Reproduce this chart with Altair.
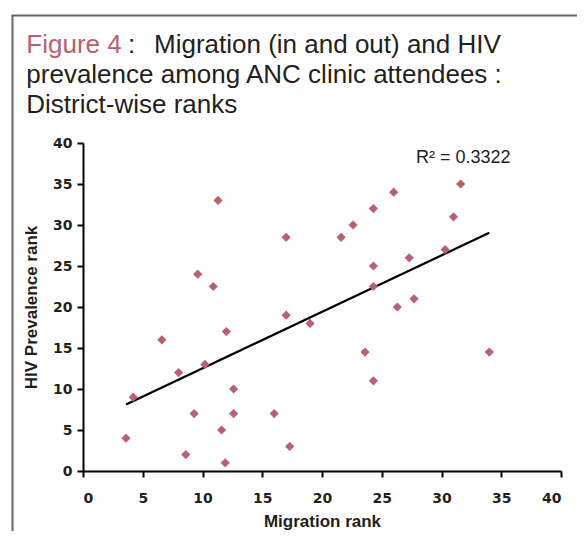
import altair as alt
import pandas as pd

migration_rank = [6.6, 12.0, 17.0, 19.0, 8.0, 10.2, 4.2, 12.6, 9.3, 12.6, 16.0, 11.6, 3.6, 8.6, 17.3, 11.9,
                  11.3, 17.0, 9.6, 10.9,
                  31.6, 26.0, 24.3, 22.6, 21.6, 31.0, 30.3, 27.3, 24.3, 24.3, 27.7, 26.3,
                  23.6, 34.0, 24.3]
hiv_rank = [16, 17, 19, 18, 12, 13, 9, 10, 7, 7, 7, 5, 4, 2, 3, 1,
            33, 28.5, 24, 22.5,
            35, 34, 32, 30, 28.5, 31, 27, 26, 25, 22.5, 21, 20,
            14.5, 14.5, 11]
x_ticks = [0, 5, 10, 15, 20, 25, 30, 35, 40]
y_ticks = [0, 5, 10, 15, 20, 25, 30, 35, 40]
r2_label = "R\u00b2 = 0.3322"
title_lines = ["prevalence among ANC clinic attendees :", "District-wise ranks"]

df = pd.DataFrame({"mig": migration_rank, "hiv": hiv_rank})

W, H = 478, 328
PINK = "#b8616f"
TXT = "#231f20"
FONT = "Liberation Sans"
LFONT = "DejaVu Sans"

x_enc = alt.X("mig:Q", scale=alt.Scale(domain=[0, 40], nice=False),
              axis=alt.Axis(values=x_ticks, title="Migration rank", grid=False,
                            domainColor="black", domainWidth=2, tickColor="black",
                            tickWidth=2, tickSize=6, labelFont=LFONT, labelFontSize=14,
                            labelFontWeight="bold", labelColor=TXT, labelPadding=14,
                            titleFont=FONT, titleFontSize=17, titleFontWeight="bold",
                            titleColor=TXT, titlePadding=8))
y_enc = alt.Y("hiv:Q", scale=alt.Scale(domain=[0, 40], nice=False),
              axis=alt.Axis(values=y_ticks, title="HIV Prevalence rank", grid=False,
                            domainColor="black", domainWidth=2, tickColor="black",
                            tickWidth=2, tickSize=6, labelFont=LFONT, labelFontSize=14,
                            labelFontWeight="bold", labelColor=TXT, labelPadding=5,
                            titleFont=FONT, titleFontSize=17, titleFontWeight="bold",
                            titleColor=TXT, titlePadding=12))

points = alt.Chart(df).mark_point(shape="diamond", filled=True, size=85,
                                  color=PINK, opacity=1).encode(x=x_enc, y=y_enc)

trend = alt.Chart(df).transform_regression("mig", "hiv").mark_line(
    color="black", strokeWidth=2.2).encode(x="mig:Q", y="hiv:Q")

one = alt.Data(values=[{"a": 1}])

r2 = alt.Chart(one).mark_text(text=r2_label, align="left", baseline="alphabetic",
                              font=FONT, fontSize=18, color=TXT).encode(
    x=alt.value(333), y=alt.value(20))

t_fig = alt.Chart(one).mark_text(text="Figure 4", align="left", baseline="alphabetic",
                                 font=FONT, fontSize=26, color=PINK).encode(
    x=alt.value(-56.7), y=alt.value(-90.3))
t_colon = alt.Chart(one).mark_text(text=":", align="left", baseline="alphabetic",
                                   font=FONT, fontSize=26, color=TXT).encode(
    x=alt.value(45), y=alt.value(-90.3))
t_line1 = alt.Chart(one).mark_text(text="Migration (in and out) and HIV", align="left",
                                   baseline="alphabetic", font=FONT, fontSize=26,
                                   color=TXT).encode(x=alt.value(71), y=alt.value(-90.3))
t_line2 = alt.Chart(one).mark_text(text=title_lines[0], align="left", baseline="alphabetic",
                                   font=FONT, fontSize=26, color=TXT).encode(
    x=alt.value(-56.7), y=alt.value(-60))
t_line3 = alt.Chart(one).mark_text(text=title_lines[1], align="left", baseline="alphabetic",
                                   font=FONT, fontSize=26, color=TXT).encode(
    x=alt.value(-56.7), y=alt.value(-30))

border_left = alt.Chart(one).mark_rule(color="#6b6767", strokeWidth=2).encode(
    x=alt.value(-70.5), y=alt.value(-128), y2=alt.value(420))
border_top = alt.Chart(one).mark_rule(color="#6b6767", strokeWidth=2).encode(
    x=alt.value(-71.5), x2=alt.value(520), y=alt.value(-127.5))

chart = alt.layer(border_left, border_top, t_fig, t_colon, t_line1, t_line2, t_line3,
                  trend, points, r2).properties(
    width=W, height=H,
    autosize=alt.AutoSizeParams(type="none"),
    padding={"left": 75, "top": 135, "right": 16, "bottom": 60},
    background="white",
).configure_view(stroke=None)

chart.save("out.html", embed_options={"renderer": "svg", "actions": False})
